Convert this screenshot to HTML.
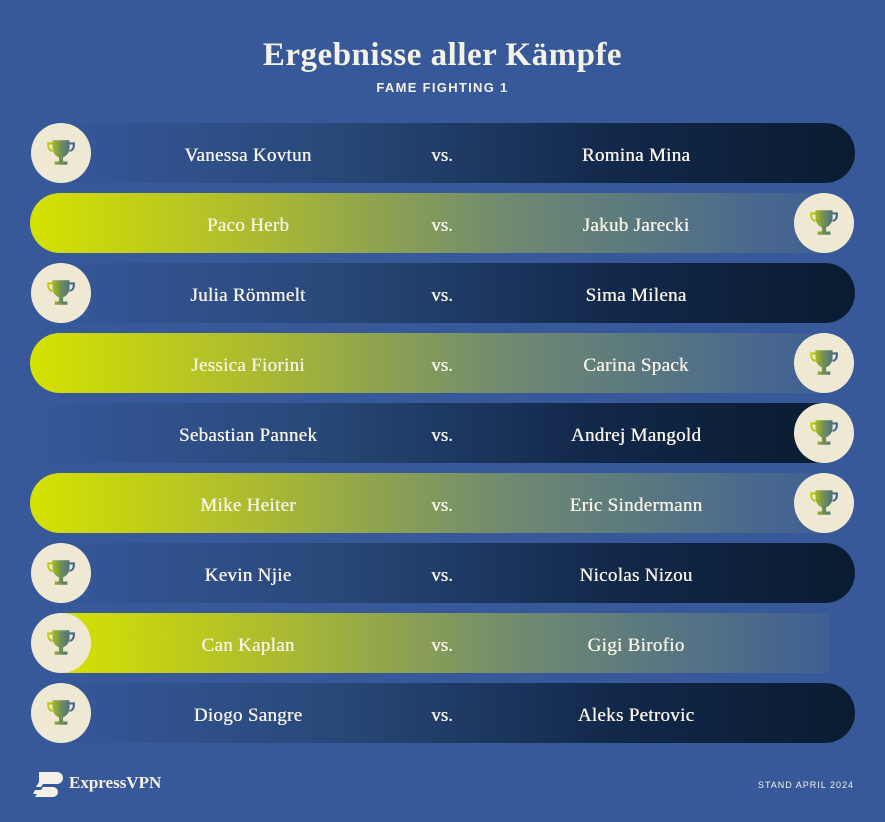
<!DOCTYPE html>
<html><head><meta charset="utf-8"><style>
body{margin:0;width:885px;height:822px;background:#37599a;position:relative;overflow:hidden;font-family:"Liberation Serif",serif;color:#f4f1e6}
.t{position:absolute;left:0;width:885px;text-align:center}
.bar{position:absolute;height:60px}
.dk{background:linear-gradient(90deg,#36579a 0%,#284878 35%,#12284a 70%,#0a1c31 100%)}
.yl{background:linear-gradient(90deg,#d5e200 0%,#a9b834 30%,#6f8a70 60%,#3f5f95 100%)}
.c{position:absolute;width:60px;height:60px;border-radius:50%;background:#efe9d4}
.c svg{position:absolute;left:12px;top:14px}
.n{position:absolute;width:300px;text-align:center;font-size:19px;line-height:60px;top:3px;color:#f6f2e6;text-shadow:0.4px 0 0 #f6f2e6;letter-spacing:0.3px}
.vs{position:absolute;left:412px;width:60px;text-align:center;font-size:19px;line-height:60px;text-shadow:0.4px 0 0 #f6f2e6}
.r{position:absolute;left:0;width:885px;height:60px}
</style></head><body>
<div class="t" style="top:37px;font-size:33px;font-weight:bold;letter-spacing:0.5px">Ergebnisse aller Kämpfe</div>
<div class="t" style="top:80px;font-family:'Liberation Sans',sans-serif;font-size:13px;font-weight:bold;letter-spacing:1.3px">FAME FIGHTING 1</div>

<svg width="0" height="0" style="position:absolute"><defs><linearGradient id="g" x1="0" x2="1"><stop offset="0" stop-color="#c8d800"/><stop offset="0.5" stop-color="#6f8e5a"/><stop offset="1" stop-color="#3c5f98"/></linearGradient>
<symbol id="tr" viewBox="0 0 30 30"><path d="M7 3h16v7c0 5-3 8-6 9v4h4v3h-12v-3h4v-4c-3-1-6-4-6-9z M7 5H2v3c0 4 3 6 5 6v-2c-2 0-3-2-3-4V7h3z M23 5h5v3c0 4-3 6-5 6v-2c2 0 3-2 3-4V7h-3z" fill="url(#g)"/></symbol></defs></svg>

<div class="r" style="top:123px">
<div class="bar dk" style="left:60px;width:795px;border-radius:0 30px 30px 0"></div>
<div class="c" style="left:31px"><svg width="36" height="32"><use href="#tr"/></svg></div>
<div class="n" style="left:98px">Vanessa Kovtun</div><div class="vs" style="top:3px">vs.</div><div class="n" style="left:486px">Romina Mina</div></div>

<div class="r" style="top:193px">
<div class="bar yl" style="left:30px;width:795px;border-radius:30px 0 0 30px"></div>
<div class="c" style="left:794px"><svg width="36" height="32"><use href="#tr"/></svg></div>
<div class="n" style="left:98px">Paco Herb</div><div class="vs" style="top:3px">vs.</div><div class="n" style="left:486px">Jakub Jarecki</div></div>

<div class="r" style="top:263px">
<div class="bar dk" style="left:60px;width:795px;border-radius:0 30px 30px 0"></div>
<div class="c" style="left:31px"><svg width="36" height="32"><use href="#tr"/></svg></div>
<div class="n" style="left:98px">Julia Römmelt</div><div class="vs" style="top:3px">vs.</div><div class="n" style="left:486px">Sima Milena</div></div>

<div class="r" style="top:333px">
<div class="bar yl" style="left:30px;width:795px;border-radius:30px 0 0 30px"></div>
<div class="c" style="left:794px"><svg width="36" height="32"><use href="#tr"/></svg></div>
<div class="n" style="left:98px">Jessica Fiorini</div><div class="vs" style="top:3px">vs.</div><div class="n" style="left:486px">Carina Spack</div></div>

<div class="r" style="top:403px">
<div class="bar dk" style="left:42px;width:783px"></div>
<div class="c" style="left:794px"><svg width="36" height="32"><use href="#tr"/></svg></div>
<div class="n" style="left:98px">Sebastian Pannek</div><div class="vs" style="top:3px">vs.</div><div class="n" style="left:486px">Andrej Mangold</div></div>

<div class="r" style="top:473px">
<div class="bar yl" style="left:30px;width:795px;border-radius:30px 0 0 30px"></div>
<div class="c" style="left:794px"><svg width="36" height="32"><use href="#tr"/></svg></div>
<div class="n" style="left:98px">Mike Heiter</div><div class="vs" style="top:3px">vs.</div><div class="n" style="left:486px">Eric Sindermann</div></div>

<div class="r" style="top:543px">
<div class="bar dk" style="left:60px;width:795px;border-radius:0 30px 30px 0"></div>
<div class="c" style="left:31px"><svg width="36" height="32"><use href="#tr"/></svg></div>
<div class="n" style="left:98px">Kevin Njie</div><div class="vs" style="top:3px">vs.</div><div class="n" style="left:486px">Nicolas Nizou</div></div>

<div class="r" style="top:613px">
<div class="bar yl" style="left:60px;width:770px"></div>
<div class="c" style="left:31px"><svg width="36" height="32"><use href="#tr"/></svg></div>
<div class="n" style="left:98px">Can Kaplan</div><div class="vs" style="top:3px">vs.</div><div class="n" style="left:486px">Gigi Birofio</div></div>

<div class="r" style="top:683px">
<div class="bar dk" style="left:60px;width:795px;border-radius:0 30px 30px 0"></div>
<div class="c" style="left:31px"><svg width="36" height="32"><use href="#tr"/></svg></div>
<div class="n" style="left:98px">Diogo Sangre</div><div class="vs" style="top:3px">vs.</div><div class="n" style="left:486px">Aleks Petrovic</div></div>

<svg style="position:absolute;left:31px;top:772px" width="32" height="26" viewBox="0 0 32 26"><path d="M8 0h18a6 6 0 0 1 0 12H12l-2 3h12a5 5 0 0 1 0 10H4l2-3H2l2-4h6l2-3H5l3-5z" fill="#f4f1e6"/></svg>
<div style="position:absolute;left:69px;top:773px;font-size:17px;font-weight:bold;color:#f4f1e6">ExpressVPN</div>
<div style="position:absolute;right:31px;top:780px;font-family:'Liberation Sans',sans-serif;font-size:9px;letter-spacing:1px;color:#f4f1e6">STAND APRIL 2024</div>
</body></html>
